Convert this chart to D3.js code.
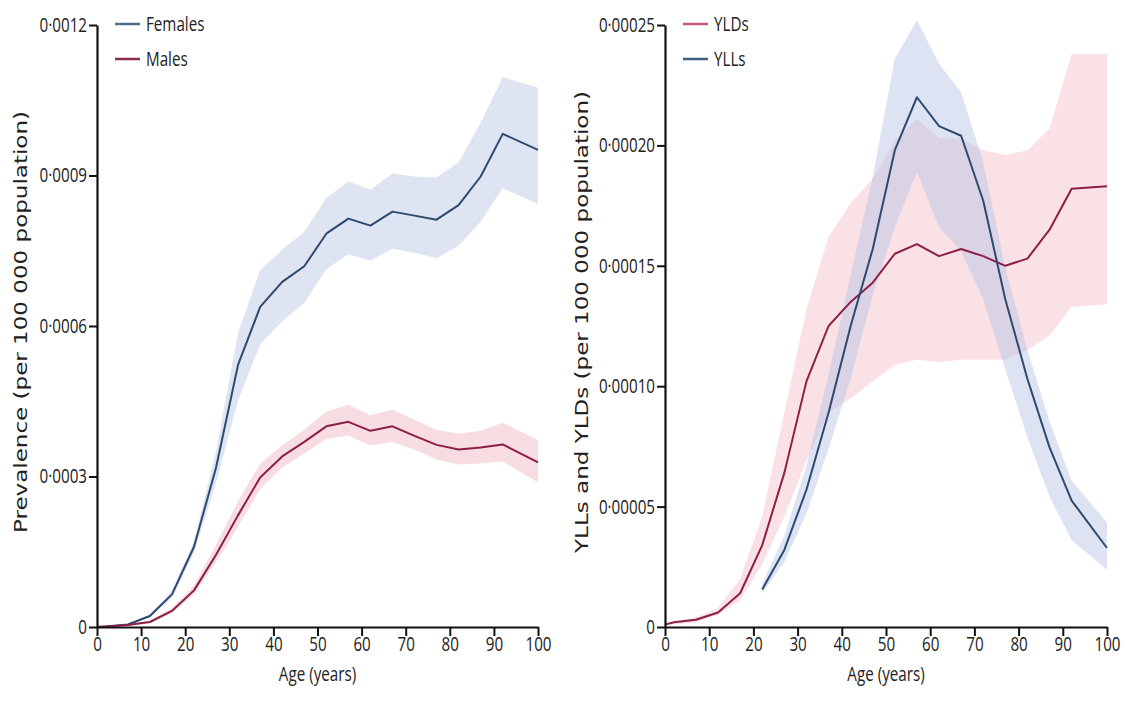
<!DOCTYPE html>
<html>
<head>
<meta charset="utf-8">
<script src="https://cdn.jsdelivr.net/npm/d3@7"></script>
<style>
  body { margin: 0; background: #fff; }
  svg { display: block; }
  .tick text, .legend text, .xlabel { font-family: "Open Sans", "Noto Sans", sans-serif; }
  .ylabel { font-family: "DejaVu Sans", sans-serif; }
</style>
</head>
<body>
<div id="chart"></div>
<script>
// edades (punto medio de cada grupo)
const edades = [0, 2, 7, 12, 17, 22, 27, 32, 37, 42, 47, 52, 57, 62, 67, 72, 77, 82, 87, 92, 100];
const edadesYLL = [22, 27, 32, 37, 42, 47, 52, 57, 62, 67, 72, 77, 82, 87, 92, 100];

// Prevalencia - mujeres
const mujeres = [0, 0.000001, 0.000005, 0.000022, 0.000065, 0.00016, 0.000318, 0.000523, 0.000638, 0.000688, 0.000719, 0.000784, 0.000814, 0.0008, 0.000828, 0.00082, 0.000812, 0.000841, 0.000898, 0.000983, 0.000951];
const mujeresSup = [0, 0.000001, 0.000006, 0.000026, 0.000073, 0.000172, 0.00035, 0.000587, 0.000711, 0.000752, 0.000788, 0.000855, 0.000888, 0.000872, 0.000904, 0.000898, 0.000896, 0.000926, 0.001005, 0.001096, 0.001075];
const mujeresInf = [0, 0.000001, 0.000004, 0.00002, 0.000058, 0.000148, 0.000287, 0.000452, 0.000563, 0.00061, 0.000646, 0.000713, 0.000743, 0.00073, 0.000754, 0.000746, 0.000735, 0.00076, 0.000808, 0.000875, 0.000843];

// Prevalencia - hombres
const hombres = [0, 0.000001, 0.000004, 0.00001, 0.000032, 0.000073, 0.000144, 0.000223, 0.000298, 0.00034, 0.000369, 0.0004, 0.000409, 0.000391, 0.0004, 0.000381, 0.000363, 0.000354, 0.000358, 0.000364, 0.000328];
const hombresSup = [0, 0.000001, 0.000005, 0.000013, 0.000038, 0.000083, 0.000164, 0.000251, 0.000326, 0.000362, 0.000393, 0.000429, 0.000443, 0.000422, 0.000433, 0.000413, 0.000393, 0.000385, 0.000391, 0.000407, 0.000373];
const hombresInf = [0, 0.000001, 0.000003, 0.000008, 0.000028, 0.000065, 0.000129, 0.0002, 0.000275, 0.000318, 0.000346, 0.000375, 0.000381, 0.000362, 0.000369, 0.000354, 0.000334, 0.000324, 0.000326, 0.00033, 0.000288];

// YLDs
const ylds = [0.000001, 0.000002, 0.000003, 0.000006, 0.000014, 0.000034, 0.000064, 0.000102, 0.000125, 0.000135, 0.000143, 0.000155, 0.000159, 0.000154, 0.000157, 0.000154, 0.00015, 0.000153, 0.000165, 0.000182, 0.000183];
const yldsSup = [0.000001, 0.000002, 0.000004, 0.000008, 0.00002, 0.000046, 0.000089, 0.000132, 0.000162, 0.000176, 0.000186, 0.000202, 0.000211, 0.000203, 0.000203, 0.000198, 0.000196, 0.000198, 0.000207, 0.000238, 0.000238];
const yldsInf = [0.000001, 0.000001, 0.000002, 0.000005, 0.000011, 0.000026, 0.000046, 0.000069, 0.000089, 0.000095, 0.000102, 0.000109, 0.000111, 0.00011, 0.000111, 0.000111, 0.000111, 0.000115, 0.000121, 0.000133, 0.000134];

// YLLs
const ylls = [0.0000156, 0.000032, 0.000057, 0.000089, 0.000125, 0.000157, 0.000198, 0.00022, 0.000208, 0.000204, 0.000177, 0.000136, 0.000103, 0.0000746, 0.0000525, 0.0000328];
const yllsSup = [0.000018, 0.000038, 0.000067, 0.000105, 0.000146, 0.000187, 0.000236, 0.000252, 0.000234, 0.000222, 0.000193, 0.000149, 0.000115, 0.0000852, 0.0000607, 0.0000434];
const yllsInf = [0.000014, 0.000027, 0.000047, 0.000074, 0.000103, 0.000138, 0.000166, 0.000189, 0.000166, 0.000156, 0.000136, 0.000107, 0.0000787, 0.0000541, 0.0000361, 0.0000238];

const ticksX = [0, 10, 20, 30, 40, 50, 60, 70, 80, 90, 100];
const ticksPrev = [0, 0.0003, 0.0006, 0.0009, 0.0012];
const ticksYL = [0, 0.00005, 0.0001, 0.00015, 0.0002, 0.00025];

const K = 0.76; // la imagen original esta comprimida en horizontal

const svg = d3.select("#chart").append("svg")
    .attr("width", 1126)
    .attr("height", 716);

// comprime un texto horizontal alrededor de su posicion x
function comprimir(sel, x0) {
    sel.each(function() {
        const t = d3.select(this);
        const x = +t.attr("x") || 0;
        t.attr("transform", `translate(${x0},0) scale(${K},1)`)
         .attr("x", x / K);
    });
}

function graficar(cfg) {
    const xScale = d3.scaleLinear().domain([0, 100]).range([cfg.x0, cfg.x1]);
    const yScale = d3.scaleLinear().domain([0, cfg.ymax]).range([627, 25]);
    const g = svg.append("g");

    // bandas de incertidumbre
    cfg.series.forEach(s => {
        const area = d3.area()
            .x((d, i) => xScale(s.edades[i]))
            .y0((d, i) => yScale(s.inf[i]))
            .y1(d => yScale(d));
        g.append("path")
            .datum(s.sup)
            .attr("fill", s.banda)
            .attr("fill-opacity", s.opacidad)
            .attr("d", area);
    });

    // lineas
    cfg.series.forEach(s => {
        const line = d3.line()
            .x((d, i) => xScale(s.edades[i]))
            .y(d => yScale(d));
        g.append("path")
            .datum(s.valores)
            .attr("fill", "none")
            .attr("stroke", s.color)
            .attr("stroke-width", 2)
            .attr("stroke-linejoin", "round")
            .attr("d", line);
    });

    // ejes
    const fmt = v => v === 0 ? "0" : d3.format(cfg.formato)(v).replace(".", "·");
    const ejeX = g.append("g")
        .attr("transform", "translate(0,627)")
        .call(d3.axisBottom(xScale).tickValues(ticksX).tickSize(9).tickSizeOuter(0).tickPadding(1));
    const ejeY = g.append("g")
        .attr("transform", `translate(${cfg.x0},0)`)
        .call(d3.axisLeft(yScale).tickValues(cfg.ticks).tickFormat(fmt).tickSize(8).tickSizeOuter(0).tickPadding(2));
    [ejeX, ejeY].forEach(e => {
        e.select(".domain").attr("stroke", "#111").attr("stroke-width", 2.2);
        e.selectAll(".tick line").attr("stroke", "#111").attr("stroke-width", 2);
        e.selectAll(".tick text").attr("fill", "#222").style("font-size", "20px").call(comprimir, 0);
    });

    g.append("text")
        .attr("class", "xlabel")
        .attr("y", 681)
        .attr("text-anchor", "middle")
        .attr("fill", "#222")
        .style("font-size", "20px")
        .text("Age (years)")
        .call(comprimir, (cfg.x0 + cfg.x1) / 2);

    g.append("text")
        .attr("class", "ylabel")
        .attr("transform", `translate(${cfg.yLabelX},322) scale(1,${1 / K}) rotate(-90)`)
        .attr("text-anchor", "middle")
        .attr("fill", "#222")
        .style("font-size", "17.5px")
        .text(cfg.yLabel);

    // leyenda
    const ley = g.append("g").attr("class", "legend");
    cfg.series.forEach((s, i) => {
        const y = 24 + i * 35;
        ley.append("line")
            .attr("x1", cfg.x0 + 18).attr("x2", cfg.x0 + 43)
            .attr("y1", y).attr("y2", y)
            .attr("stroke", s.colorLeyenda)
            .attr("stroke-width", 2.5);
        ley.append("text")
            .attr("y", y + 7)
            .attr("fill", "#222")
            .style("font-size", "20px")
            .text(s.nombre)
            .call(comprimir, cfg.x0 + 49);
    });
}

graficar({
    x0: 97, x1: 538, ymax: 0.0012, ticks: ticksPrev, formato: ".4f",
    yLabel: "Prevalence (per 100 000 population)", yLabelX: 27,
    series: [
        { nombre: "Females", edades: edades, valores: mujeres, sup: mujeresSup, inf: mujeresInf,
          color: "#2c4a70", colorLeyenda: "#4a6c93", banda: "#dfe4f2", opacidad: 1 },
        { nombre: "Males", edades: edades, valores: hombres, sup: hombresSup, inf: hombresInf,
          color: "#8c1f45", colorLeyenda: "#8c2a4a", banda: "#f7dde2", opacidad: 1 }
    ]
});

graficar({
    x0: 665, x1: 1107, ymax: 0.00025, ticks: ticksYL, formato: ".5f",
    yLabel: "YLLs and YLDs (per 100 000 population)", yLabelX: 588,
    series: [
        { nombre: "YLDs", edades: edades, valores: ylds, sup: yldsSup, inf: yldsInf,
          color: "#8c1f45", colorLeyenda: "#c45a74", banda: "#f2b8c0", opacidad: 0.42 },
        { nombre: "YLLs", edades: edadesYLL, valores: ylls, sup: yllsSup, inf: yllsInf,
          color: "#2c4a70", colorLeyenda: "#3d5f85", banda: "#b4c0e4", opacidad: 0.45 }
    ]
});
</script>
</body>
</html>
